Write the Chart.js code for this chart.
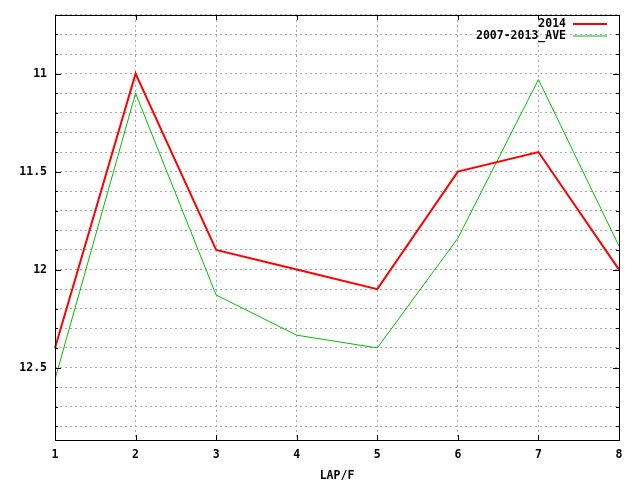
<!DOCTYPE html>
<html>
<head>
<meta charset="utf-8">
<script src="https://cdn.jsdelivr.net/npm/chart.js@4/dist/chart.umd.min.js"></script>
<style>
  html, body { margin: 0; padding: 0; background: #fff; }
  #wrap { width: 640px; height: 480px; }
</style>
</head>
<body>
<div id="wrap"><canvas id="lapChart"></canvas></div>
<script>
// ラップ番号
const laps = ['1', '2', '3', '4', '5', '6', '7', '8'];
// 2014年のラップタイム
const lap2014 = [12.4, 11.0, 11.9, 12.0, 12.1, 11.5, 11.4, 12.0];
// 2007-2013年の平均
const lapAve = [12.56, 11.1, 12.13, 12.335, 12.4, 11.84, 11.03, 11.88];
// y軸の目盛り (0.1刻みのグリッド)
const yTicks = [10.7, 10.8, 10.9, 11.0, 11.1, 11.2, 11.3, 11.4, 11.5, 11.6, 11.7,
                11.8, 11.9, 12.0, 12.1, 12.2, 12.3, 12.4, 12.5, 12.6, 12.7, 12.8];
// ラベルを表示する目盛り
const yLabelTicks = [11, 11.5, 12, 12.5];

const monoFont = { family: '"DejaVu Sans Mono", monospace', size: 11.5, weight: 'bold' };

function isLabelTick(v) {
    return yLabelTicks.some(t => Math.abs(t - v) < 1e-6);
}

// gnuplot風の枠線・内向き目盛り・凡例
const framePlugin = {
    id: 'frame',
    afterDatasetsDraw(chart) {
        const { ctx, chartArea: a, scales } = chart;
        ctx.save();
        ctx.setLineDash([]);
        ctx.strokeStyle = '#000';
        ctx.lineWidth = 1;

        ctx.beginPath();
        // y軸の目盛り (左右)
        yTicks.forEach(v => {
            const y = Math.round(scales.y.getPixelForValue(v)) + 0.5;
            const len = isLabelTick(v) ? 6 : 3;
            ctx.moveTo(a.left, y); ctx.lineTo(a.left + len, y);
            ctx.moveTo(a.right, y); ctx.lineTo(a.right - len, y);
        });
        // x軸の目盛り (上下)
        laps.forEach((l, i) => {
            const x = Math.round(scales.x.getPixelForValue(i)) + 0.5;
            ctx.moveTo(x, a.bottom); ctx.lineTo(x, a.bottom - 5);
            ctx.moveTo(x, a.top); ctx.lineTo(x, a.top + 5);
        });
        ctx.stroke();

        ctx.strokeRect(Math.round(a.left) + 0.5, Math.round(a.top) + 0.5,
                       Math.round(a.right - a.left), Math.round(a.bottom - a.top));

        // 凡例 (右上、テキスト右寄せ)
        ctx.font = 'bold 11.5px "DejaVu Sans Mono", monospace';
        ctx.textAlign = 'right';
        ctx.textBaseline = 'middle';
        chart.data.datasets.forEach((ds, i) => {
            const y = 24 + i * 12;
            ctx.fillStyle = '#000';
            ctx.fillText(ds.label, 566, y);
            ctx.strokeStyle = ds.borderColor;
            ctx.lineWidth = ds.borderWidth;
            ctx.beginPath();
            ctx.moveTo(573, y);
            ctx.lineTo(607, y);
            ctx.stroke();
        });
        ctx.restore();
    }
};

const gridDash = { color: '#a8a8a8', lineWidth: 1, drawTicks: false };

new Chart(document.getElementById('lapChart').getContext('2d'), {
    type: 'line',
    data: {
        labels: laps,
        datasets: [
            {
                label: '2014',
                data: lap2014,
                borderColor: '#ff0000',
                borderWidth: 2,
                pointRadius: 0,
                tension: 0,
                fill: false
            },
            {
                label: '2007-2013_AVE',
                data: lapAve,
                borderColor: '#00c000',
                borderWidth: 1,
                pointRadius: 0,
                tension: 0,
                fill: false
            }
        ]
    },
    options: {
        responsive: true,
        maintainAspectRatio: false,
        animation: false,
        layout: { padding: { top: 14, right: 21, left: 0, bottom: 0 } },
        plugins: {
            legend: { display: false },
            tooltip: { enabled: false }
        },
        scales: {
            x: {
                type: 'category',
                offset: false,
                grid: gridDash,
                border: { display: false, dash: [2, 3] },
                ticks: { color: '#000', font: monoFont, padding: 8, maxRotation: 0 },
                title: {
                    display: true,
                    text: 'LAP/F',
                    color: '#000',
                    font: monoFont,
                    padding: { top: 0, bottom: -3 }
                },
                afterFit(scale) { scale.height = 40; }
            },
            y: {
                reverse: true,
                min: 10.7,
                max: 12.87,
                grid: gridDash,
                border: { display: false, dash: [2, 3] },
                afterBuildTicks(scale) {
                    scale.ticks = yTicks.map(v => ({ value: v }));
                },
                ticks: {
                    color: '#000',
                    font: monoFont,
                    padding: 8,
                    autoSkip: false,
                    callback: v => isLabelTick(v) ? String(Math.round(v * 10) / 10) : ''
                },
                afterFit(scale) { scale.width = 55; }
            }
        }
    },
    plugins: [framePlugin]
});
</script>
</body>
</html>
